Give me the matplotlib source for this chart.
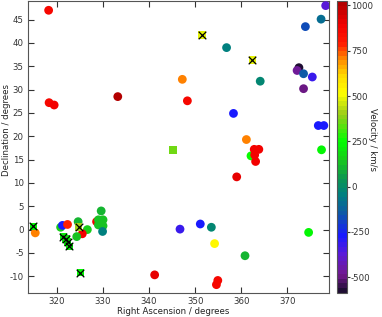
import numpy as np
import matplotlib
matplotlib.use('Agg')
import matplotlib.pyplot as plt
from matplotlib.colors import LinearSegmentedColormap, Normalize

# Circles: right ascension, declination, velocity
ra = [318.2, 318.3, 319.4, 333.2, 347.2, 348.3, 356.8, 364.1, 358.3, 361.1,
      362.1, 362.8, 363.8, 362.9, 363.1, 377.4, 376.7, 377.9, 373.5, 378.3,
      377.3, 373.9, 372.5, 372.1, 373.5, 375.4, 359.0, 351.1, 353.5, 374.6,
      354.2, 360.8, 354.9, 354.6, 346.7, 341.2, 315.3, 320.8, 321.2, 322.3,
      324.6, 326.6, 325.5, 324.3, 329.6, 328.6, 329.0, 330.0, 330.0, 329.0,
      329.9]
dec = [47.0, 27.2, 26.7, 28.5, 32.2, 27.6, 39.0, 31.8, 24.9, 19.3,
       15.8, 17.2, 17.2, 16.0, 14.6, 17.1, 22.3, 22.3, 30.2, 48.0,
       45.1, 43.5, 34.7, 34.1, 33.4, 32.7, 11.3, 1.2, 0.5, -0.6,
       -3.0, -5.6, -10.9, -11.8, 0.1, -9.7, -0.7, 0.5, 0.9, 1.1,
       1.7, 0.0, -0.9, -1.5, 4.0, 1.7, 2.1, 2.1, 0.8, 1.0,
       -0.4]
vel = [870, 860, 880, 1010, 720, 860, -40, -20, -280, 710,
       250, 880, 880, 880, 880, 220, -270, -270, -500, -380,
       -100, -170, -580, -470, -150, -330, 920, -280, -20, 220,
       530, 100, 870, 870, -330, 920, 700, 150, -280, 790,
       110, 160, 890, 120, 110, 880, 120, 120, 120, 120,
       -40]

# Squares (those flagged get a black cross on top)
sq_ra = [345.2, 351.5, 362.4, 314.9, 324.7, 325.1, 321.4, 322.0, 322.3, 322.7]
sq_dec = [17.1, 41.7, 36.4, 0.7, 0.5, -9.2, -1.5, -2.0, -2.6, -3.6]
sq_vel = [350, 480, 490, 230, 420, 240, 200, 190, 210, 200]
sq_cross = [False, True, True, True, True, True, True, True, True, True]

cb_ticks = [-500, -250, 0, 250, 500, 750, 1000]

# colour scale
cm_vals = [-585, -500, -380, -280, -150, -50, 50, 150, 250, 400, 520, 620, 720, 800, 900, 1025]
cm_cols = [(0.12, 0.05, 0.2), (0.45, 0.1, 0.55), (0.35, 0.1, 0.85), (0.1, 0.1, 1.0),
           (0.05, 0.35, 0.65), (0.0, 0.5, 0.5), (0.05, 0.6, 0.3), (0.1, 0.8, 0.1),
           (0.0, 1.0, 0.0), (0.6, 0.8, 0.1), (1.0, 1.0, 0.0), (1.0, 0.85, 0.0),
           (1.0, 0.5, 0.0), (1.0, 0.1, 0.0), (0.95, 0.0, 0.0), (0.7, 0.0, 0.0)]
vmin, vmax = cm_vals[0], cm_vals[-1]
pos = [(v - vmin) / (vmax - vmin) for v in cm_vals]
cmap = LinearSegmentedColormap.from_list('vel', list(zip(pos, cm_cols)), N=64)
norm = Normalize(vmin=vmin, vmax=vmax)

plt.rcParams['font.family'] = ['DejaVu Sans']
plt.rcParams['axes.unicode_minus'] = False
fs = 6.2
fig = plt.figure(figsize=(3.82, 3.17), dpi=100)
ax = fig.add_axes([0.073, 0.077, 0.788, 0.92])
cax = fig.add_axes([0.882, 0.077, 0.026, 0.92])

sc = ax.scatter(ra, dec, c=vel, cmap=cmap, norm=norm, s=40, marker='o', linewidths=0, zorder=3)
ax.scatter(sq_ra, sq_dec, c=sq_vel, cmap=cmap, norm=norm, s=30, marker='s', linewidths=0, zorder=4)
xr = [r for r, f in zip(sq_ra, sq_cross) if f]
xd = [d for d, f in zip(sq_dec, sq_cross) if f]
ax.scatter(xr, xd, c='black', s=30, marker='x', linewidths=0.9, zorder=5)

ax.set_xlim(313.7, 379.0)
ax.set_ylim(-13.5, 49.0)
ax.set_xticks([320, 330, 340, 350, 360, 370])
ax.set_yticks(np.arange(-10, 50, 5))
ax.tick_params(direction='in', top=True, right=True, length=4, labelsize=fs, colors='#333333', pad=3)
for sp in ax.spines.values():
    sp.set_color('#555555')
fig.text(0.453, 0.016, 'Right Ascension / degrees', fontsize=fs, color='#222222', ha='center', va='center')
fig.text(0.017, 0.59, 'Declination / degrees', fontsize=fs, color='#222222', ha='center', va='center', rotation=90)

cb = fig.colorbar(sc, cax=cax, ticks=cb_ticks)
cb.ax.tick_params(labelsize=fs, length=2, colors='#333333', pad=1)
cb.outline.set_edgecolor('#555555')
fig.text(0.976, 0.561, 'Velocity / km/s', fontsize=fs, color='#222222', ha='center', va='center', rotation=270)

fig.savefig('out.png', dpi=100)
